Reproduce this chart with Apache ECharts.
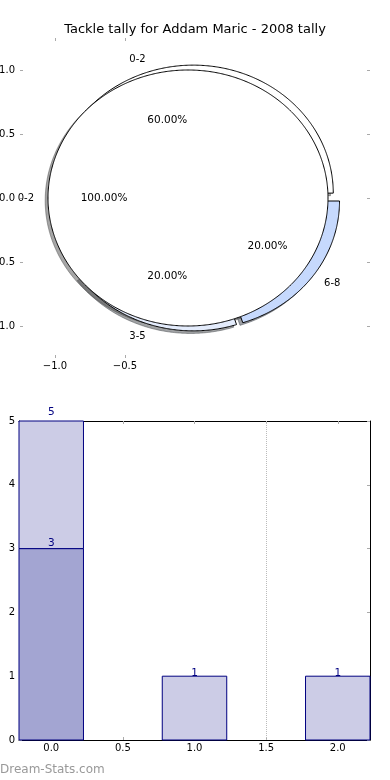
<!DOCTYPE html>
<html><head><meta charset="utf-8">
<script src="https://cdn.jsdelivr.net/npm/echarts@6/dist/echarts.min.js"></script>
<style>html,body{margin:0;padding:0;background:#fff}#c{width:390px;height:780px}</style>
</head><body><div id="c"></div>
<script>
// ---------- data ----------
const titleText = 'Tackle tally for Addam Maric - 2008 tally';
const pieCats = ['0-2', '3-5', '6-8'];
const pieShares = [60, 20, 20];
const totalCats = ['0-2'];
const totalShares = [100];
const pieXTicks = [-1.0, -0.5];
const pieYTicks = [-1.0, -0.5, 0.0, 0.5, 1.0];

const barX = [0, 1, 2];
const barDark = [3, 0, 0];
const barLight = [2, 1, 1];
const barXTicks = [0.0, 0.5, 1.0, 1.5, 2.0];
const barGridX = [1.5];
const watermark = 'Dream-Stats.com';

// ---------- styles ----------
const sliceColors = ['#ffffff', '#e4ecfc', '#c6d9fd'];
const totalColors = ['#ffffff'];
const darkColor = '#a3a5d2';
const lightColor = '#cccce6';
const edgeColor = '#000080';
const BAR_HALF = 0.225;
const FONT = 'DejaVu Sans';
const TICK = '#aaaaaa';

const fmt1 = v => (+v).toFixed(1).replace('-', '\u2212');

const pies = [
  { cats: pieCats, shares: pieShares, colors: sliceColors, explode: 0.04 },
  { cats: totalCats, shares: totalShares, colors: totalColors, explode: 0.05 }
];

function sliceGeom(pie, i) {
  const total = pie.shares.reduce((a, b) => a + b, 0);
  let cum = 0;
  for (let k = 0; k < i; k++) cum += pie.shares[k];
  const t1 = cum / total * 2 * Math.PI;
  const t2 = (cum + pie.shares[i]) / total * 2 * Math.PI;
  const tm = (t1 + t2) / 2;
  return {
    t1, t2, tm,
    cx: pie.explode * Math.cos(tm),
    cy: pie.explode * Math.sin(tm),
    full: pie.shares[i] === total,
    pct: (pie.shares[i] / total * 100).toFixed(2) + '%'
  };
}
function slicePoints(api, g, dx, dy) {
  const pts = [];
  if (!g.full) pts.push(api.coord([g.cx + dx, g.cy + dy]));
  const n = Math.max(12, Math.ceil((g.t2 - g.t1) / (Math.PI / 360)));
  for (let k = 0; k <= n; k++) {
    const a = g.t1 + (g.t2 - g.t1) * k / n;
    pts.push(api.coord([g.cx + dx + Math.cos(a), g.cy + dy + Math.sin(a)]));
  }
  return pts;
}
function shadowOf(hex) {
  const r = parseInt(hex.slice(1, 3), 16), g = parseInt(hex.slice(3, 5), 16), b = parseInt(hex.slice(5, 7), 16);
  return 'rgba(' + Math.round(r * 0.3) + ',' + Math.round(g * 0.3) + ',' + Math.round(b * 0.3) + ',0.5)';
}

const allSlices = [];
pies.forEach((p, pi) => p.shares.forEach((v, i) => allSlices.push([pi, i])));

function wedgeSeries(pi, z) {
  const pie = pies[pi];
  return {
    type: 'custom', xAxisIndex: 0, yAxisIndex: 0, z: z, silent: true,
    data: pie.shares.map((v, i) => [i, v]),
    renderItem: function (params, api) {
      const i = params.dataIndex;
      const g = sliceGeom(pie, i);
      return {
        type: 'polygon',
        shape: { points: slicePoints(api, g, 0, 0) },
        style: { fill: pie.colors[i], stroke: '#000', lineWidth: 1 }
      };
    }
  };
}

// stacked bar segments: [x, base, top]
function barSeries(vals, bases, color, z) {
  return {
    type: 'custom', xAxisIndex: 2, yAxisIndex: 2, z: z, silent: true,
    data: barX.map((x, i) => [x, bases[i], bases[i] + vals[i]]),
    renderItem: function (params, api) {
      const x = api.value(0), b = api.value(1), t = api.value(2);
      if (t <= b) return null;
      const p0 = api.coord([x - BAR_HALF, t]);
      const p1 = api.coord([x + BAR_HALF, b]);
      return { type: 'rect',
        shape: { x: p0[0], y: p0[1], width: p1[0] - p0[0], height: p1[1] - p0[1] },
        style: { fill: color, stroke: edgeColor, lineWidth: 1 } };
    }
  };
}

const labelItems = [];
barX.forEach((x, i) => {
  if (barDark[i] > 0) labelItems.push([x, barDark[i]]);
  if (barLight[i] > 0) labelItems.push([x, barDark[i] + barLight[i]]);
});

const option = {
  animation: false,
  title: {
    text: titleText, left: 'center', top: 23, padding: 0,
    textStyle: { fontFamily: FONT, fontSize: 13, fontWeight: 'normal', color: '#000' }
  },
  grid: [
    { left: 20, top: 38, width: 350, height: 320, outerBoundsMode: 'none', containLabel: false },
    { left: 19, top: 421, width: 351, height: 319, outerBoundsMode: 'none', containLabel: false }
  ],
  xAxis: [
    { gridIndex: 0, type: 'value', min: -1.25, max: 1.25, position: 'bottom',
      axisLine: { show: false, onZero: false },
      axisTick: { show: true, inside: true, length: 3, customValues: pieXTicks, lineStyle: { color: TICK } },
      axisLabel: { customValues: pieXTicks, formatter: fmt1, margin: 3, fontSize: 10, fontFamily: FONT, color: '#000' },
      splitLine: { show: false } },
    { gridIndex: 0, type: 'value', min: -1.25, max: 1.25, position: 'top',
      axisLine: { show: false, onZero: false },
      axisTick: { show: true, inside: true, length: 3, customValues: pieXTicks, lineStyle: { color: TICK } },
      axisLabel: { show: false }, splitLine: { show: false } },
    { gridIndex: 1, type: 'value', min: -0.225, max: 2.225, position: 'bottom',
      axisLine: { show: true, onZero: false, lineStyle: { color: '#000', width: 1 } },
      axisTick: { show: true, inside: true, length: 3, customValues: barXTicks, lineStyle: { color: TICK } },
      axisLabel: { customValues: barXTicks, formatter: fmt1, margin: 3, fontSize: 10, fontFamily: FONT, color: '#000' },
      splitLine: { show: false } },
    { gridIndex: 1, type: 'value', min: -0.225, max: 2.225, position: 'top',
      axisLine: { show: true, onZero: false, lineStyle: { color: '#000', width: 1 } },
      axisTick: { show: true, inside: true, length: 3, customValues: barXTicks, lineStyle: { color: TICK } },
      axisLabel: { show: false }, splitLine: { show: false } }
  ],
  yAxis: [
    { gridIndex: 0, type: 'value', min: -1.25, max: 1.25, position: 'left',
      axisLine: { show: false, onZero: false },
      axisTick: { show: true, inside: true, length: 3, customValues: pieYTicks, lineStyle: { color: TICK } },
      axisLabel: { customValues: pieYTicks, formatter: fmt1, margin: 5, fontSize: 10, fontFamily: FONT, color: '#000' },
      splitLine: { show: false } },
    { gridIndex: 0, type: 'value', min: -1.25, max: 1.25, position: 'right',
      axisLine: { show: false, onZero: false },
      axisTick: { show: true, inside: true, length: 3, customValues: pieYTicks, lineStyle: { color: TICK } },
      axisLabel: { show: false }, splitLine: { show: false } },
    { gridIndex: 1, type: 'value', min: 0, max: 5, interval: 1, position: 'left',
      axisLine: { show: true, onZero: false, lineStyle: { color: '#000', width: 1 } },
      axisTick: { show: true, inside: true, length: 3, lineStyle: { color: TICK } },
      axisLabel: { margin: 4, fontSize: 10, fontFamily: FONT, color: '#000' },
      splitLine: { show: false } },
    { gridIndex: 1, type: 'value', min: 0, max: 5, interval: 1, position: 'right',
      axisLine: { show: true, onZero: false, lineStyle: { color: '#000', width: 1 } },
      axisTick: { show: true, inside: true, length: 3, lineStyle: { color: TICK } },
      axisLabel: { show: false }, splitLine: { show: false } }
  ],
  graphic: [
    { type: 'text', left: 0, top: 764, silent: true,
      style: { text: watermark, fill: '#999999', font: '12px "DejaVu Sans"' } }
  ],
  series: [
    // shadows of all wedges (below every wedge)
    { type: 'custom', xAxisIndex: 0, yAxisIndex: 0, z: 1, silent: true,
      data: allSlices.map(s => [s[0], s[1]]),
      renderItem: function (params, api) {
        const s = allSlices[params.dataIndex];
        const pie = pies[s[0]];
        const g = sliceGeom(pie, s[1]);
        const c = shadowOf(pie.colors[s[1]]);
        return { type: 'polygon', shape: { points: slicePoints(api, g, -0.02, -0.02) },
                 style: { fill: c, stroke: c, lineWidth: 1 } };
      } },
    wedgeSeries(0, 2),
    wedgeSeries(1, 3),
    // pie labels
    { type: 'custom', xAxisIndex: 0, yAxisIndex: 0, z: 4, silent: true,
      data: allSlices.map(s => [s[0], s[1]]),
      renderItem: function (params, api) {
        const s = allSlices[params.dataIndex];
        const pie = pies[s[0]];
        const g = sliceGeom(pie, s[1]);
        const lx = g.cx + 1.1 * Math.cos(g.tm), ly = g.cy + 1.1 * Math.sin(g.tm);
        const px = g.cx + 0.6 * Math.cos(g.tm), py = g.cy + 0.6 * Math.sin(g.tm);
        const lp = api.coord([lx, ly]), pp = api.coord([px, py]);
        return { type: 'group', children: [
          { type: 'text', x: lp[0], y: lp[1],
            style: { text: pie.cats[s[1]], align: lx > 0 ? 'left' : 'right', verticalAlign: 'middle',
                     fill: '#000', fontSize: 10, fontFamily: FONT } },
          { type: 'text', x: pp[0], y: pp[1],
            style: { text: g.pct, align: 'center', verticalAlign: 'middle',
                     fill: '#000', fontSize: 10.5, fontFamily: FONT } }
        ] };
      } },
    // bars (stacked: dark at bottom, light on top)
    barSeries(barDark, barX.map(() => 0), darkColor, 2),
    barSeries(barLight, barDark, lightColor, 2),
    // dotted grid line
    { type: 'line', xAxisIndex: 2, yAxisIndex: 2, data: [], silent: true,
      markLine: { silent: true, symbol: 'none', label: { show: false },
        lineStyle: { type: 'dotted', color: '#bbbbbb', width: 1 },
        data: barGridX.map(x => ({ xAxis: x })) } },
    // bar value labels
    { type: 'custom', xAxisIndex: 2, yAxisIndex: 2, z: 5, silent: true,
      data: labelItems,
      renderItem: function (params, api) {
        const x = api.value(0), h = api.value(1);
        const p = api.coord([x, h * 1.02]);
        return { type: 'text', x: p[0], y: p[1] - 2,
          style: { text: String(h), align: 'center', verticalAlign: 'middle',
                   fill: '#000080', fontSize: 10.5, fontFamily: FONT } };
      } }
  ]
};
const chart = echarts.init(document.getElementById('c'));
chart.setOption(option);
</script>
</body></html>
